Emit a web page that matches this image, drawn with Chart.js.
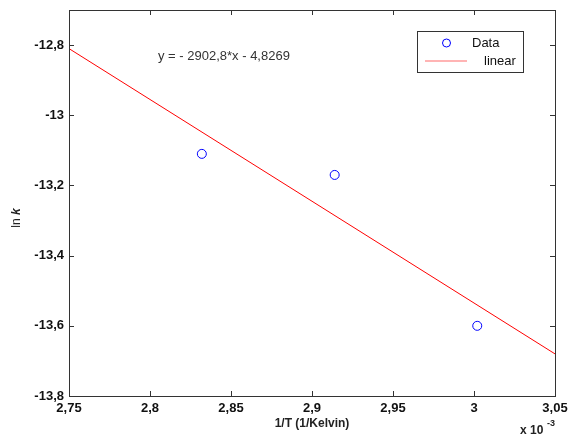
<!DOCTYPE html>
<html>
<head>
<meta charset="utf-8">
<script src="https://cdn.jsdelivr.net/npm/chart.js@4"></script>
<style>
  body { margin: 0; background: #fff; }
  #wrap { width: 569px; height: 437px; }
</style>
</head>
<body>
<div id="wrap"><canvas id="c" width="569" height="437"></canvas></div>
<script>
// measured points (x in 1e-3 1/K)
const dataX = [2.832, 2.914, 3.002];
const dataY = [-13.11, -13.17, -13.60];
// linear fit y = -2902,8*x - 4,8269 read at the plot edges
const fitX = [2.75, 3.05];
const fitY = [-12.81, -13.68];
const xTicks = [2.75, 2.8, 2.85, 2.9, 2.95, 3, 3.05];
const yTicks = [-12.8, -13, -13.2, -13.4, -13.6, -13.8];
const fitLabel = "y = - 2902,8*x - 4,8269";

const comma = v => String(Math.round(v * 1000) / 1000).replace(".", ",");

// frame, inward ticks, titles, legend and equation
const decor = {
  id: "decor",
  afterDraw(chart) {
    const ctx = chart.ctx;
    const a = chart.chartArea;
    const xs = chart.scales.x, ys = chart.scales.y;
    ctx.save();
    ctx.strokeStyle = "#333";
    ctx.lineWidth = 1;
    ctx.strokeRect(a.left + 0.5, a.top + 0.5, a.right - a.left, a.bottom - a.top);
    ctx.beginPath();
    xTicks.forEach(v => {
      const px = Math.round(xs.getPixelForValue(v)) + 0.5;
      ctx.moveTo(px, a.bottom); ctx.lineTo(px, a.bottom - 5);
      ctx.moveTo(px, a.top); ctx.lineTo(px, a.top + 5);
    });
    yTicks.forEach(v => {
      const py = Math.round(ys.getPixelForValue(v)) + 0.5;
      ctx.moveTo(a.left, py); ctx.lineTo(a.left + 5, py);
      ctx.moveTo(a.right, py); ctx.lineTo(a.right - 5, py);
    });
    ctx.stroke();

    // x title
    ctx.fillStyle = "#222";
    ctx.font = "bold 12px 'Liberation Sans', Arial, sans-serif";
    ctx.textAlign = "center";
    ctx.textBaseline = "middle";
    ctx.fillText("1/T (1/Kelvin)", (a.left + a.right) / 2, 424);

    // x 10^-3
    ctx.textAlign = "left";
    ctx.fillText("x 10", 520, 431);
    ctx.font = "bold 9px 'Liberation Sans', Arial, sans-serif";
    ctx.fillText("-3", 547, 424);

    // y title "ln k"
    ctx.save();
    ctx.translate(17, 218);
    ctx.rotate(-Math.PI / 2);
    ctx.textAlign = "left";
    ctx.font = "12px 'Liberation Sans', Arial, sans-serif";
    const w1 = ctx.measureText("ln ").width;
    ctx.font = "bold italic 12px 'Liberation Sans', Arial, sans-serif";
    const w2 = ctx.measureText("k").width;
    ctx.font = "12px 'Liberation Sans', Arial, sans-serif";
    ctx.fillText("ln ", -(w1 + w2) / 2, 0);
    ctx.font = "bold italic 12px 'Liberation Sans', Arial, sans-serif";
    ctx.fillText("k", -(w1 + w2) / 2 + w1, 0);
    ctx.restore();

    // equation
    ctx.font = "13px 'Liberation Sans', Arial, sans-serif";
    ctx.fillStyle = "#333";
    ctx.fillText(fitLabel, 158, 56);

    // legend
    ctx.fillStyle = "#fff";
    ctx.fillRect(417, 31, 106, 41);
    ctx.strokeStyle = "#333";
    ctx.strokeRect(417.5, 31.5, 106, 41);
    ctx.strokeStyle = "blue";
    ctx.beginPath();
    ctx.arc(446.5, 43, 4, 0, Math.PI * 2);
    ctx.stroke();
    ctx.strokeStyle = "#ff6a6a";
    ctx.lineWidth = 1.2;
    ctx.beginPath();
    ctx.moveTo(425, 61); ctx.lineTo(467, 61);
    ctx.stroke();
    ctx.fillStyle = "#111";
    ctx.font = "13px 'Liberation Sans', Arial, sans-serif";
    ctx.fillText("Data", 472, 43);
    ctx.fillText("linear", 484, 61);
    ctx.restore();
  }
};

new Chart(document.getElementById("c"), {
  type: "scatter",
  data: {
    datasets: [
      {
        label: "Data",
        data: dataX.map((x, i) => ({ x: x, y: dataY[i] })),
        pointRadius: 4.5,
        pointBorderColor: "blue",
        pointBackgroundColor: "rgba(0,0,0,0)",
        pointBorderWidth: 1,
        showLine: false
      },
      {
        label: "linear",
        data: fitX.map((x, i) => ({ x: x, y: fitY[i] })),
        showLine: true,
        borderColor: "red",
        borderWidth: 1,
        pointRadius: 0
      }
    ]
  },
  options: {
    responsive: false,
    animation: false,
    layout: { padding: { left: 0, right: 14, top: 10, bottom: 0 } },
    plugins: { legend: { display: false }, tooltip: { enabled: false } },
    scales: {
      x: {
        type: "linear",
        min: 2.75,
        max: 3.05,
        afterBuildTicks: s => { s.ticks = xTicks.map(v => ({ value: v })); },
        afterFit: s => { s.height = 41; s.paddingLeft = 0; s.paddingRight = 0; },
        grid: { display: false, drawTicks: false },
        border: { display: false },
        ticks: {
          autoSkip: false,
          maxRotation: 0,
          padding: 5,
          color: "#111",
          font: { family: "'Liberation Sans', Arial, sans-serif", size: 13, weight: "bold" },
          callback: v => comma(v)
        }
      },
      y: {
        type: "linear",
        min: -13.8,
        max: -12.7,
        afterBuildTicks: s => { s.ticks = yTicks.map(v => ({ value: v })); },
        afterFit: s => { s.width = 69; s.paddingTop = 0; s.paddingBottom = 0; },
        grid: { display: false, drawTicks: false },
        border: { display: false },
        ticks: {
          autoSkip: false,
          padding: 5,
          color: "#111",
          font: { family: "'Liberation Sans', Arial, sans-serif", size: 13, weight: "bold" },
          callback: v => comma(v)
        }
      }
    }
  },
  plugins: [decor]
});
</script>
</body>
</html>
